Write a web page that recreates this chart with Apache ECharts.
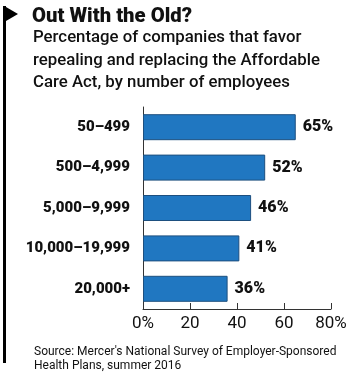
<!DOCTYPE html>
<html><head><meta charset="utf-8">
<script src="https://cdn.jsdelivr.net/npm/echarts@6/dist/echarts.min.js"></script>
<style>html,body{margin:0;padding:0;background:#fff}#c{width:360px;height:375px}</style>
</head><body><div id="c"></div>
<script>
var categories = ['50–499', '500–4,999', '5,000–9,999', '10,000–19,999', '20,000+'];
var values = [65, 52, 46, 41, 36];
var tickLabels = {0: '0%', 20: '20', 40: '40', 60: '60', 80: '80%'};

var chart = echarts.init(document.getElementById('c'));
chart.setOption({
  animation: false,
  title: [
    {text: 'Out With the Old?', left: 27, top: 2,
     textStyle: {fontFamily: 'Roboto', fontWeight: 900, fontSize: 20.3, color: '#111'}},
    {text: 'Percentage of companies that favor\nrepealing and replacing the Affordable\nCare Act, by number of employees', left: 28, top: 22,
     textStyle: {fontFamily: 'Roboto', fontWeight: 500, fontSize: 16.8, lineHeight: 22.5, color: '#111'}},
    {text: "Source: Mercer's National Survey of Employer-Sponsored\nHealth Plans, summer 2016", left: 29, top: 340,
     textStyle: {fontFamily: 'Roboto', fontWeight: 400, fontSize: 12, lineHeight: 14, color: '#111'}}
  ],
  graphic: [
    {type: 'rect', shape: {x: 3, y: 6, width: 3, height: 357}, style: {fill: '#000'}},
    {type: 'polygon', shape: {points: [[6, 7], [18, 14], [6, 21]]}, style: {fill: '#000'}}
  ],
  grid: {left: 143, right: 29, top: 107, bottom: 66, containLabel: false},
  xAxis: {
    type: 'value', min: 0, max: 80, interval: 20,
    axisLine: {show: true, lineStyle: {color: '#333', width: 1}},
    axisTick: {show: true, inside: true, length: 6, lineStyle: {color: '#333'}},
    splitLine: {show: false},
    axisLabel: {formatter: function (v) { return tickLabels[v]; }, fontFamily: 'Roboto', fontSize: 17, color: '#111', margin: 6}
  },
  yAxis: {
    type: 'category', data: categories, inverse: true,
    axisLine: {show: true, lineStyle: {color: '#333', width: 1}},
    axisTick: {show: false},
    axisLabel: {fontFamily: 'Roboto', fontWeight: 900, fontSize: 15, color: '#111', margin: 13}
  },
  series: [{
    type: 'bar', data: values, barWidth: 26,
    itemStyle: {color: '#2077c1', borderColor: '#1d4f7f', borderWidth: 1},
    label: {show: true, position: 'right', distance: 7, formatter: '{c}%',
      fontFamily: 'Roboto', fontWeight: 900, fontSize: 16, color: '#111'}
  }]
});
</script></body></html>
